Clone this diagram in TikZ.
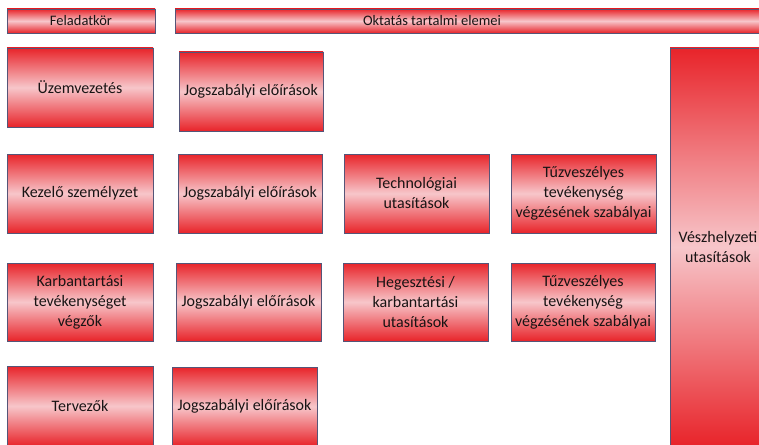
\documentclass[tikz,border=0pt]{standalone}
\usepackage{fontspec}
\setmainfont{Carlito}
\definecolor{boxred}{RGB}{232,36,42}
\definecolor{boxpink}{RGB}{247,198,202}
\definecolor{bordercol}{RGB}{85,85,120}
\definecolor{textcol}{RGB}{25,20,20}
\tikzset{
  gbox/.style={draw=bordercol, line width=0.7pt, top color=boxred, bottom color=boxred, middle color=boxpink,
    align=center, text=textcol, inner sep=0pt, font=\fontsize{16}{20}\selectfont},
  hbox/.style={gbox, minimum height=24pt, font=\fontsize{14.5}{17}\selectfont},
  cbox/.style={gbox, minimum width=146pt, minimum height=79pt}
}
\begin{document}
\begin{tikzpicture}[x=1pt,y=-1pt]
\useasboundingbox (0,0) rectangle (759,444);
\clip (0,0) rectangle (759,444);
\fill[white] (0,0) rectangle (759,444);
% headers
\node[hbox, minimum width=148pt] (fel) at (81,21) {Feladatkör};
\node[hbox, minimum width=625pt] (okt) at (487.5,21) {};
\node[text=textcol, font=\fontsize{14.5}{17}\selectfont, inner sep=0pt] (okttext) at (432,21) {Oktatás tartalmi elemei};
% column 1
\node[cbox] (uzem) at (80,87.5) {Üzemvezetés};
\node[cbox] (kez) at (80,193.5) {Kezelő személyzet};
\node[cbox, minimum height=78pt] (karb) at (80,302) {Karbantartási\\tevékenységet\\végzők};
\node[cbox, minimum height=80pt] (terv) at (80,406) {Tervezők};
% column 2
\node[cbox, minimum width=144pt] (jog1) at (251,91.5) {Jogszabályi előírások};
\node[cbox, minimum width=144pt] (jog2) at (250,193.5) {Jogszabályi előírások};
\node[cbox, minimum width=145pt, minimum height=78pt] (jog3) at (248.5,302) {Jogszabályi előírások};
\node[cbox, minimum width=145pt, minimum height=79pt] (jog4) at (244.5,406.5) {Jogszabályi előírások};
% column 3
\node[cbox, minimum width=145pt] (tech) at (416.5,193.5) {Technológiai\\utasítások};
\node[cbox, minimum width=145pt, minimum height=78pt] (heg) at (415.5,302) {Hegesztési /\\karbantartási\\utasítások};
% column 4
\node[cbox, minimum width=145pt] (tuz1) at (583.5,193.5) {Tűzveszélyes\\tevékenység\\végzésének szabályai};
\node[cbox, minimum width=144pt, minimum height=78pt] (tuz2) at (583,302) {Tűzveszélyes\\tevékenység\\végzésének szabályai};
% tall box
\node[gbox, minimum width=96pt, minimum height=398pt] (vesz) at (718,247) {Vészhelyzeti\\utasítások};
\end{tikzpicture}
\end{document}
